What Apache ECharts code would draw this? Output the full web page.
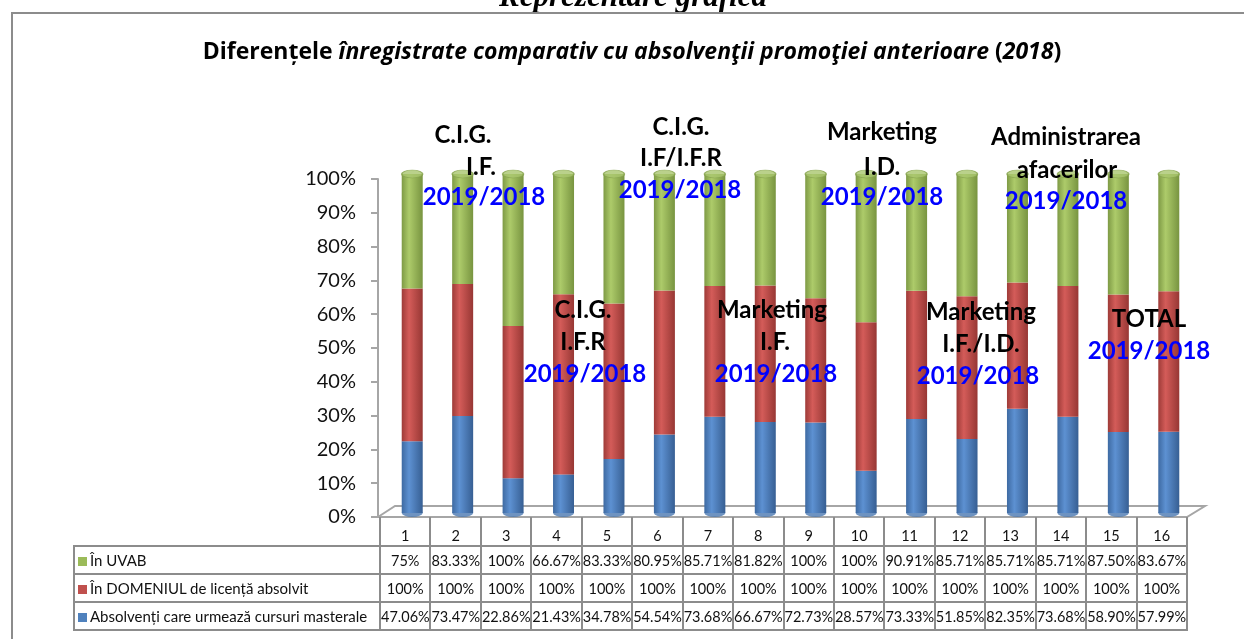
<!DOCTYPE html>
<html>
<head>
<meta charset="utf-8">
<script src="https://cdn.jsdelivr.net/npm/echarts@6/dist/echarts.min.js"></script>
<style>
  body { margin: 0; background: #fff; }
  #wrap { position: relative; width: 1244px; height: 639px; overflow: hidden; }
  #main { width: 1244px; height: 639px; }
  #tbl {
    position: absolute; left: 73px; top: 517px; width: 1113px;
    border-collapse: collapse; table-layout: fixed;
    font-family: Lato, "Liberation Sans", sans-serif; font-size: 14.5px; color: #111;
  }
  #tbl td { border: 2px solid #8c8c8c; padding: 0; text-align: center; white-space: nowrap; overflow: hidden; }
  #tbl tr.head td { height: 19px; border-top: none; padding-top: 9px; }
  #tbl tr.head td.blank { border: none; border-right: 2px solid #8c8c8c; }
  #tbl tr.row td { height: 26px; }
  #tbl td.name { text-align: left; padding-left: 3px; font-size: 15px; }
  .key { display: inline-block; width: 9px; height: 9px; margin-right: 3px; }
</style>
</head>
<body>
<div id="wrap">
  <div id="main"></div>
  <table id="tbl"></table>
</div>
<script>
// categorii si valori citite din tabel
const categories = ['1','2','3','4','5','6','7','8','9','10','11','12','13','14','15','16'];
const seriesNames = [
  'Absolvenți care urmează cursuri masterale',
  'În DOMENIUL de licență absolvit',
  'În UVAB'
];
const masterale = [47.06, 73.47, 22.86, 21.43, 34.78, 54.54, 73.68, 66.67, 72.73, 28.57, 73.33, 51.85, 82.35, 73.68, 58.90, 57.99];
const domeniu   = [100, 100, 100, 100, 100, 100, 100, 100, 100, 100, 100, 100, 100, 100, 100, 100];
const uvab      = [75, 83.33, 100, 66.67, 83.33, 80.95, 85.71, 81.82, 100, 100, 90.91, 85.71, 85.71, 85.71, 87.50, 83.67];

// adnotari de pe grafic
const notes = [
  { x: 463, y: 135, t: 'C.I.G.' }, { x: 481, y: 167, t: 'I.F.' }, { x: 484, y: 197, t: '2019/2018', b: 1 },
  { x: 681, y: 127, t: 'C.I.G.' }, { x: 681, y: 158, t: 'I.F/I.F.R' }, { x: 680, y: 190, t: '2019/2018', b: 1 },
  { x: 882, y: 132, t: 'Marketing' }, { x: 882, y: 167, t: 'I.D.' }, { x: 882, y: 197, t: '2019/2018', b: 1 },
  { x: 1066, y: 137, t: 'Administrarea' }, { x: 1067, y: 170, t: 'afacerilor' }, { x: 1066, y: 201, t: '2019/2018', b: 1 },
  { x: 583, y: 310, t: 'C.I.G.' }, { x: 583, y: 342, t: 'I.F.R' }, { x: 585, y: 374, t: '2019/2018', b: 1 },
  { x: 772, y: 310, t: 'Marketing' }, { x: 775, y: 342, t: 'I.F.' }, { x: 776, y: 374, t: '2019/2018', b: 1 },
  { x: 981, y: 312, t: 'Marketing' }, { x: 981, y: 344, t: 'I.F./I.D.' }, { x: 978, y: 376, t: '2019/2018', b: 1 },
  { x: 1149, y: 319, t: 'TOTAL' }, { x: 1149, y: 351, t: '2019/2018', b: 1 }
];

const colors = ['#4f81bd', '#c0504d', '#9bbb59'];
const raw = [masterale, domeniu, uvab];
// 100% stivuit: fiecare coloana normalizata la suma ei
const totals = categories.map((c, i) => masterale[i] + domeniu[i] + uvab[i]);
const norm = raw.map(arr => arr.map((v, i) => v / totals[i] * 100));

function fmt(v) {
  return (Number.isInteger(v) ? String(v) : v.toFixed(2)) + '%';
}

// tabelul de date sub grafic
(function buildTable() {
  const tbl = document.getElementById('tbl');
  let html = '<colgroup><col style="width:306px">';
  categories.forEach(() => { html += '<col style="width:50.44px">'; });
  html += '</colgroup><tr class="head"><td class="blank"></td>';
  categories.forEach(c => { html += '<td>' + c + '</td>'; });
  html += '</tr>';
  [2, 1, 0].forEach(s => {
    html += '<tr class="row"><td class="name"><span class="key" style="background:' + colors[s] + '"></span>' + seriesNames[s] + '</td>';
    raw[s].forEach(v => { html += '<td>' + fmt(v) + '</td>'; });
    html += '</tr>';
  });
  tbl.innerHTML = html;
})();

const chart = echarts.init(document.getElementById('main'));

function cyl(dark, light, dark2) {
  return new echarts.graphic.LinearGradient(0, 0, 1, 0, [
    { offset: 0, color: dark },
    { offset: 0.35, color: light },
    { offset: 1, color: dark2 }
  ]);
}
const grads = [
  cyl('#3e6aa2', '#5d91d2', '#375f93'),
  cyl('#9e3b38', '#d45c59', '#973734'),
  cyl('#7e9a45', '#adcb6a', '#789440')
];

const annot = notes.map(n => ({
  type: 'text', x: n.x, y: n.y,
  style: {
    text: n.t, align: 'center', verticalAlign: 'middle',
    fontFamily: 'Lato', fontWeight: 'bold', fontSize: 24,
    fill: n.b ? '#0000ff' : '#000'
  },
  z: 100
}));

const option = {
  animation: false,
  grid: [
    { left: 378, right: 59, top: 179, bottom: 122 },
    { left: 387, right: 50, top: 174, bottom: 126 }
  ],
  xAxis: [
    { type: 'category', gridIndex: 0, data: categories, show: false },
    { type: 'category', gridIndex: 1, data: categories, show: false }
  ],
  yAxis: [
    {
      type: 'value', gridIndex: 0, min: 0, max: 100, interval: 10,
      axisLine: { show: true, lineStyle: { color: '#a6a6a6', width: 2 } },
      axisTick: { show: true, length: 7, lineStyle: { color: '#a6a6a6', width: 2 } },
      splitLine: { show: false },
      axisLabel: { formatter: '{value}%', color: '#111', fontSize: 20, fontFamily: 'Lato', margin: 22 }
    },
    { type: 'value', gridIndex: 1, min: 0, max: 100, show: false }
  ],
  graphic: [
    {
      type: 'text', x: 633, y: 13,
      style: {
        text: 'Reprezentare grafică', align: 'center', verticalAlign: 'bottom',
        fontFamily: 'Liberation Serif', fontStyle: 'italic', fontWeight: 'bold', fontSize: 31, fill: '#000'
      }
    },
    {
      type: 'rect', shape: { x: 12, y: 13, width: 1300, height: 700 },
      style: { fill: 'none', stroke: '#8c8c8c', lineWidth: 2 }, z: 10
    },
    {
      type: 'text', x: 632, y: 52,
      style: {
        rich: {
          n: { fontFamily: 'Open Sans', fontWeight: 'bold', fontSize: 23, fill: '#000' },
          i: { fontFamily: 'Open Sans', fontWeight: 'bold', fontStyle: 'italic', fontSize: 23, fill: '#000' }
        },
        text: '{n|Diferențele }{i|înregistrate comparativ cu absolvenţii promoţiei anterioare}{n| (}{i|2018}{n|)}',
        align: 'center', verticalAlign: 'middle'
      }
    },
    {
      type: 'polygon',
      shape: { points: [[378, 517], [395, 506], [1205, 506], [1187, 517]] },
      style: { fill: '#fff', stroke: '#a6a6a6', lineWidth: 2 }, z: -5
    }
  ].concat(annot),
  series: [
    {
      name: 'base', type: 'scatter', xAxisIndex: 1, yAxisIndex: 1,
      data: categories.map(() => 0), symbol: 'circle', symbolSize: [21, 8],
      itemStyle: { color: '#4a78b1' }, z: 1, silent: true
    }
  ].concat(norm.map((arr, s) => ({
    name: seriesNames[s], type: 'bar', stack: 'all', xAxisIndex: 1, yAxisIndex: 1,
    barWidth: 21, data: arr, itemStyle: { color: grads[s] }, z: 2
  }))).concat([
    {
      name: 'cap', type: 'scatter', xAxisIndex: 1, yAxisIndex: 1,
      data: categories.map(() => 100), symbol: 'circle', symbolSize: [21, 8],
      itemStyle: { color: '#a9c56e', borderColor: '#86a24d', borderWidth: 1 }, z: 3, silent: true
    }
  ])
};

chart.setOption(option);
</script>
</body>
</html>
